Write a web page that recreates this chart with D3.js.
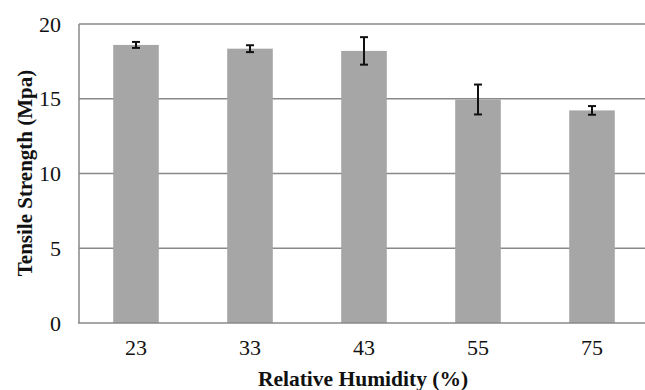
<!DOCTYPE html>
<html><head><meta charset="utf-8">
<script src="https://cdn.jsdelivr.net/npm/d3@7"></script>
<style>body{margin:0;background:#fff}svg{display:block}</style>
</head><body>
<script>
const categories = ["23", "33", "43", "55", "75"];
const values = [18.6, 18.35, 18.2, 14.95, 14.22];
const errors = [0.2, 0.23, 0.92, 1.0, 0.29];
const yTicks = [0, 5, 10, 15, 20];

const W = 645, H = 390;
const svg = d3.select("body").append("svg").attr("width", W).attr("height", H);
const x = d3.scaleBand().domain(categories).range([79, 649]).padding(0);
const y = d3.scaleLinear().domain([0, 20]).range([323, 24]);
const gridColor = "#898989";
const font = "'Liberation Serif','Times New Roman',serif";

// gridlines
svg.append("g").selectAll("line").data(yTicks.filter(d => d > 0)).join("line")
  .attr("x1", 79).attr("x2", W).attr("y1", d => y(d)).attr("y2", d => y(d))
  .attr("stroke", gridColor).attr("stroke-width", 1.5);

const bw = x.bandwidth() * 0.4;
svg.append("g").selectAll("rect").data(values).join("rect")
  .attr("x", (d, i) => x(categories[i]) + x.bandwidth() / 2 - bw / 2)
  .attr("y", d => y(d)).attr("width", bw).attr("height", d => y(0) - y(d))
  .attr("fill", "#a6a6a6");

// axes lines
svg.append("line").attr("x1", 79).attr("x2", 79).attr("y1", y(20)).attr("y2", y(0))
  .attr("stroke", gridColor).attr("stroke-width", 1.5);
svg.append("line").attr("x1", 78).attr("x2", W).attr("y1", y(0)).attr("y2", y(0))
  .attr("stroke", gridColor).attr("stroke-width", 1.5);

// error bars
const eg = svg.append("g").attr("stroke", "#111").attr("stroke-width", 2);
values.forEach((v, i) => {
  const cx = x(categories[i]) + x.bandwidth() / 2;
  eg.append("line").attr("x1", cx).attr("x2", cx).attr("y1", y(v + errors[i])).attr("y2", y(v - errors[i]));
  [v + errors[i], v - errors[i]].forEach(e => {
    eg.append("line").attr("x1", cx - 4).attr("x2", cx + 4).attr("y1", y(e)).attr("y2", y(e));
  });
});

// y tick labels
svg.append("g").selectAll("text").data(yTicks).join("text")
  .attr("x", 61).attr("y", d => y(d)).attr("dy", "0.35em")
  .attr("text-anchor", "end").attr("font-family", font).attr("font-size", 22)
  .attr("fill", "#111").text(d => d);

// x tick labels
svg.append("g").selectAll("text").data(categories).join("text")
  .attr("x", d => x(d) + x.bandwidth() / 2).attr("y", 355)
  .attr("text-anchor", "middle").attr("font-family", font).attr("font-size", 22)
  .attr("fill", "#111").text(d => d);

svg.append("text").attr("x", 363).attr("y", 386).attr("text-anchor", "middle")
  .attr("font-family", font).attr("font-size", 21.5).attr("font-weight", "bold")
  .attr("fill", "#111").text("Relative Humidity (%)");

svg.append("text").attr("transform", "translate(32,173) rotate(-90)").attr("text-anchor", "middle")
  .attr("font-family", font).attr("font-size", 21).attr("font-weight", "bold")
  .attr("fill", "#111").text("Tensile Strength (Mpa)");
</script>
</body></html>
